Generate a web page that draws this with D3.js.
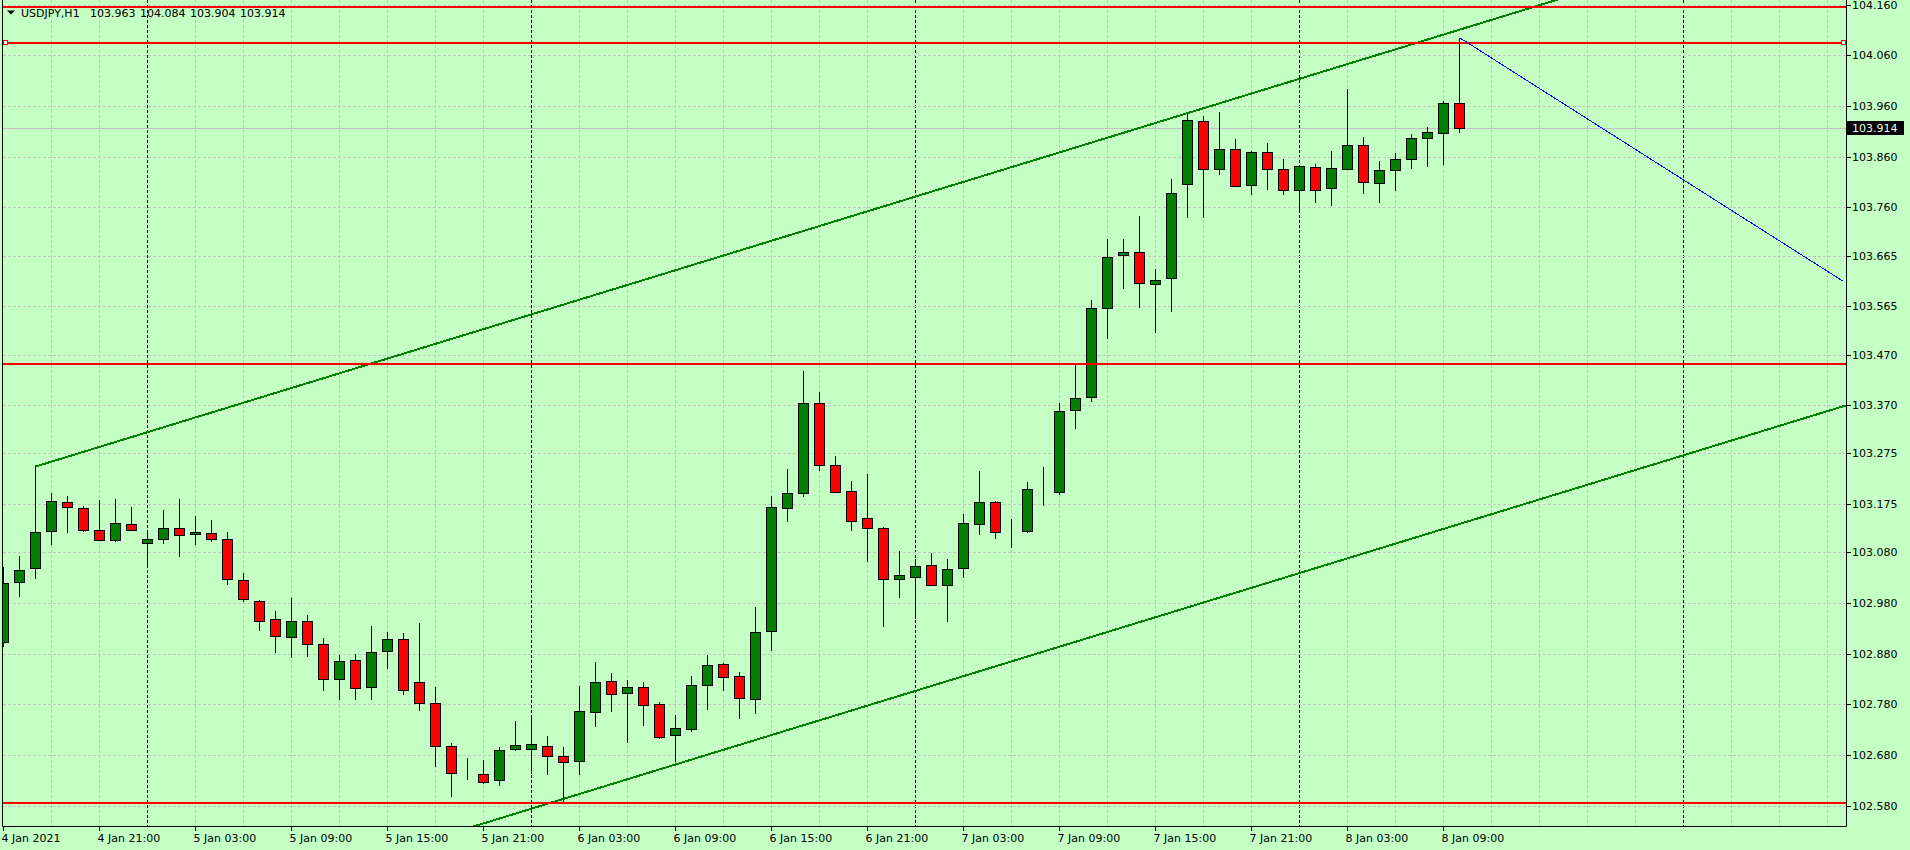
<!DOCTYPE html>
<html><head><meta charset="utf-8">
<script src="https://cdnjs.cloudflare.com/ajax/libs/d3/7.8.5/d3.min.js"></script>
<style>
html,body{margin:0;padding:0;background:#c4ffc4;overflow:hidden}
svg{display:block}
text{font-family:"DejaVu Sans",sans-serif;font-size:11px;fill:#000}
</style></head><body>
<svg id="c" width="1910" height="850"></svg>
<script>
// ---------- data ----------
const symbol = "USDJPY,H1";
const titleValues = [103.963, 104.084, 103.904, 103.914];
const lastPrice = 103.914;

const opens = [102.902,103.021,103.048,103.121,103.179,103.167,103.123,103.104,103.135,103.098,
103.106,103.127,103.115,103.117,103.106,103.025,102.984,102.948,102.912,102.944,
102.898,102.829,102.867,102.814,102.885,102.908,102.824,102.782,102.697,102.645,
102.642,102.630,102.691,102.691,102.697,102.678,102.668,102.764,102.826,102.802,
102.814,102.780,102.719,102.731,102.818,102.859,102.835,102.790,102.924,103.167,
103.196,103.374,103.253,103.200,103.147,103.128,103.028,103.031,103.054,103.015,
103.049,103.135,103.179,103.119,103.121,103.203,103.199,103.360,103.386,103.561,
103.666,103.672,103.610,103.620,103.806,103.930,103.835,103.875,103.804,103.869,
103.835,103.794,103.839,103.798,103.835,103.883,103.808,103.833,103.855,103.898,
103.906,103.966];
const highs = [103.050,103.073,103.249,103.197,103.191,103.171,103.183,103.184,103.169,103.123,
103.163,103.184,103.151,103.143,103.119,103.039,102.985,102.964,102.990,102.956,
102.910,102.877,102.879,102.934,102.922,102.920,102.940,102.814,102.703,102.674,
102.670,102.696,102.747,102.756,102.718,102.696,102.816,102.864,102.842,102.827,
102.824,102.785,102.758,102.836,102.877,102.862,102.844,102.972,103.191,103.244,
103.438,103.396,103.270,103.220,103.234,103.129,103.082,103.066,103.079,103.066,
103.156,103.240,103.181,103.145,103.219,103.248,103.374,103.451,103.578,103.698,
103.698,103.743,103.639,103.816,103.949,103.940,103.948,103.895,103.871,103.887,
103.856,103.841,103.846,103.871,103.994,103.900,103.852,103.867,103.904,103.918,
103.971,104.095];
const lows = [102.893,102.992,103.027,103.095,103.117,103.119,103.103,103.100,103.122,103.048,
103.097,103.070,103.095,103.100,103.015,102.981,102.925,102.881,102.871,102.873,
102.806,102.788,102.788,102.788,102.850,102.798,102.766,102.656,102.597,102.630,
102.623,102.618,102.687,102.643,102.641,102.585,102.641,102.736,102.764,102.704,
102.738,102.711,102.667,102.725,102.768,102.807,102.752,102.760,102.886,103.140,
103.188,103.241,103.196,103.122,103.061,102.933,102.990,102.949,103.014,102.943,
103.029,103.113,103.107,103.089,103.117,103.172,103.193,103.324,103.377,103.501,
103.600,103.562,103.513,103.554,103.740,103.740,103.825,103.801,103.785,103.795,
103.785,103.756,103.768,103.762,103.833,103.787,103.768,103.793,103.835,103.840,
103.844,103.906];
const closes = [103.019,103.044,103.119,103.181,103.169,103.123,103.104,103.137,103.123,103.106,
103.127,103.113,103.119,103.106,103.027,102.987,102.944,102.914,102.944,102.898,
102.829,102.865,102.812,102.883,102.908,102.808,102.782,102.697,102.644,102.645,
102.626,102.689,102.699,102.701,102.678,102.666,102.766,102.824,102.800,102.814,
102.778,102.715,102.733,102.818,102.857,102.833,102.792,102.922,103.169,103.196,
103.374,103.253,103.198,103.141,103.127,103.028,103.035,103.052,103.015,103.046,
103.137,103.179,103.119,103.119,103.204,103.203,103.358,103.384,103.561,103.662,
103.672,103.612,103.616,103.788,103.932,103.835,103.875,103.802,103.869,103.835,
103.794,103.841,103.794,103.837,103.883,103.810,103.833,103.855,103.898,103.908,
103.966,103.916];

const priceTicks = [104.160,104.060,103.960,103.860,103.760,103.665,103.565,103.470,103.370,
103.275,103.175,103.080,102.980,102.880,102.780,102.680,102.580];
const timeLabels = ["4 Jan 2021","4 Jan 21:00","5 Jan 03:00","5 Jan 09:00","5 Jan 15:00","5 Jan 21:00",
"6 Jan 03:00","6 Jan 09:00","6 Jan 15:00","6 Jan 21:00","7 Jan 03:00","7 Jan 09:00",
"7 Jan 15:00","7 Jan 21:00","8 Jan 03:00","8 Jan 09:00"];
const timeLabelBars = [0,6,12,18,24,30,36,42,48,54,60,66,72,78,84,90];
const daySeparatorBars = [9,33,57,81,105];
const redLevels = [104.156, 104.085, 103.451, 102.586];
const selectedLevel = 104.085;
const upperChannel = [[2,103.249],[90,104.101]];
const lowerChannel = [[2,102.274],[90,103.126]];
const blueTrend = [[91,104.095],[115,103.614]];

// ---------- layout ----------
const W = 1910, H = 850;
const left = 2.5, right = 1846.5, bottom = 826.5;
const BG = "#c4ffc4", GRID = "#c4c4c4";
const svg = d3.select("#c");
svg.append("rect").attr("width",W).attr("height",H).attr("fill",BG);

const x = d3.scaleLinear().domain([0,115]).range([3.5, 1843.5]);
const y = d3.scaleLinear().domain([102.580,104.160]).range([805.7,4.7]);

svg.append("clipPath").attr("id","plot").append("rect")
  .attr("x",3).attr("y",0).attr("width",right-3).attr("height",bottom);
const plot = svg.append("g").attr("clip-path","url(#plot)");

// grid
const vg = d3.range(3,115,3);
plot.selectAll("line.vg").data(vg).join("line")
  .attr("x1",d=>x(d)).attr("x2",d=>x(d)).attr("y1",0).attr("y2",bottom)
  .attr("stroke",d=>daySeparatorBars.includes(d)?"#000":GRID)
  .attr("stroke-dasharray","3,2").attr("shape-rendering","crispEdges");
plot.selectAll("line.hg").data(priceTicks).join("line")
  .attr("x1",left).attr("x2",right)
  .attr("y1",d=>Math.round(y(d))+0.5).attr("y2",d=>Math.round(y(d))+0.5)
  .attr("stroke",GRID).attr("stroke-dasharray","3,2").attr("shape-rendering","crispEdges");

// current price line
plot.append("line").attr("x1",left).attr("x2",right)
  .attr("y1",Math.round(y(lastPrice))-0.5).attr("y2",Math.round(y(lastPrice))-0.5)
  .attr("stroke","#c0c0c0").attr("shape-rendering","crispEdges");

// candles
const bars = d3.range(opens.length).map(i=>({i,o:opens[i],h:highs[i],l:lows[i],c:closes[i]}));
const cg = plot.append("g");
cg.selectAll("line.wick").data(bars).join("line")
  .attr("x1",d=>x(d.i)).attr("x2",d=>x(d.i))
  .attr("y1",d=>Math.round(y(d.h))).attr("y2",d=>Math.round(y(d.l)))
  .attr("stroke","#000").attr("shape-rendering","crispEdges");
cg.selectAll("rect.body").data(bars).join("rect")
  .attr("x",d=>x(d.i)-5).attr("width",10)
  .attr("y",d=>Math.round(y(Math.max(d.o,d.c)))+0.5)
  .attr("height",d=>Math.max(0,Math.round(y(Math.min(d.o,d.c)))-Math.round(y(Math.max(d.o,d.c)))))
  .attr("fill",d=>d.c>=d.o?"#008000":"#ff0000")
  .attr("stroke","#000").attr("shape-rendering","crispEdges");

// trend lines (rays)
function ray(pts, kEnd){
  const [[k1,p1],[k2,p2]] = pts;
  const s = (p2-p1)/(k2-k1);
  return [[k1,p1],[kEnd,p1+s*(kEnd-k1)]];
}
const line = d3.line().x(d=>x(d[0])).y(d=>y(d[1]));
[upperChannel, lowerChannel].forEach(pts=>{
  plot.append("path").attr("d",line(ray(pts,125))).attr("fill","none")
    .attr("stroke","#008000").attr("stroke-width",2).attr("shape-rendering","crispEdges");
});

// horizontal levels (drawn over the channel lines)
plot.selectAll("line.lvl").data(redLevels).join("line")
  .attr("x1",0).attr("x2",right)
  .attr("y1",d=>y(d)).attr("y2",d=>y(d))
  .attr("stroke","#ff0000").attr("stroke-width",2).attr("shape-rendering","crispEdges");

plot.append("path").attr("d",line(blueTrend)).attr("fill","none")
  .attr("stroke","#0000ff").attr("stroke-width",1).attr("shape-rendering","crispEdges");

// selection markers on the selected level
[3.5, 1841.5].forEach(mx=>{
  svg.append("rect").attr("x",mx).attr("y",Math.round(y(selectedLevel))-2.5)
    .attr("width",4).attr("height",4).attr("fill","#fff").attr("stroke","#ff0000")
    .attr("shape-rendering","crispEdges");
});

// frame
svg.append("line").attr("x1",left).attr("x2",left).attr("y1",0).attr("y2",bottom).attr("stroke","#000");
svg.append("line").attr("x1",right).attr("x2",right).attr("y1",0).attr("y2",bottom).attr("stroke","#000");
svg.append("line").attr("x1",left).attr("x2",right).attr("y1",bottom).attr("y2",bottom).attr("stroke","#000");

// price axis
const pa = svg.append("g");
pa.selectAll("line").data(priceTicks).join("line")
  .attr("x1",right).attr("x2",right+4)
  .attr("y1",d=>Math.round(y(d))+0.5).attr("y2",d=>Math.round(y(d))+0.5)
  .attr("stroke","#000").attr("shape-rendering","crispEdges");
pa.selectAll("text").data(priceTicks).join("text")
  .attr("x",1852).attr("y",d=>y(d)+4)
  .text(d=>d.toFixed(3));
const ly = y(lastPrice);
svg.append("rect").attr("x",1847).attr("y",Math.round(ly)-8).attr("width",57).attr("height",14).attr("fill","#000");
svg.append("text").attr("x",1852).attr("y",Math.round(ly)+3).style("fill","#f4fff0").text(lastPrice.toFixed(3));

// time axis
const ta = svg.append("g");
ta.selectAll("line").data(timeLabelBars).join("line")
  .attr("x1",d=>x(d)).attr("x2",d=>x(d)).attr("y1",bottom).attr("y2",bottom+4)
  .attr("stroke","#000").attr("shape-rendering","crispEdges");
ta.selectAll("text").data(timeLabelBars).join("text")
  .attr("x",d=>x(d)-2).attr("y",842)
  .text((d,i)=>timeLabels[i]);

// title
svg.append("path").attr("d","M7,10.5 L15,10.5 L11,14.5 Z").attr("fill","#000");
svg.append("text").attr("x",21).attr("y",17).text(symbol);
svg.selectAll("text.tv").data(titleValues).join("text").attr("class","tv")
  .attr("x",(d,i)=>90+50*i).attr("y",17).text(d=>d.toFixed(3));
</script>
</body></html>
